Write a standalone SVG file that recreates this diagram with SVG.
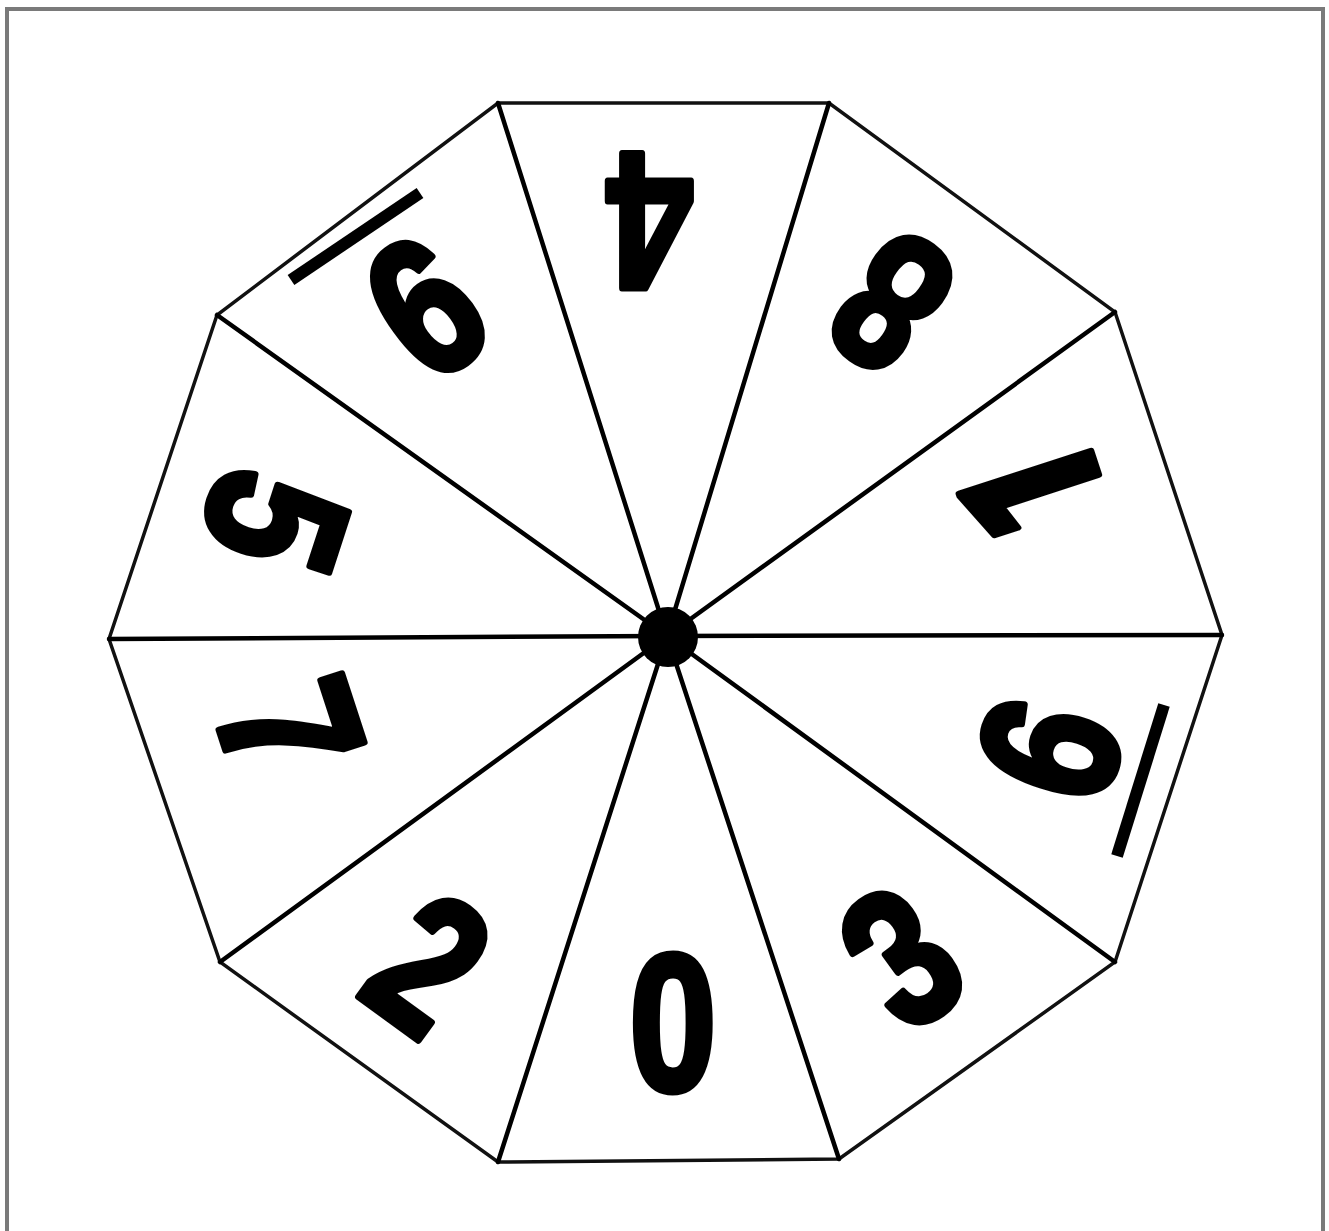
<svg xmlns="http://www.w3.org/2000/svg" width="1329" height="1231" viewBox="0 0 1329 1231">
<style>
.frame{fill:#fff;stroke:#7a7a7a;stroke-width:4}
.outline{fill:#fff;stroke:#111;stroke-width:3.5;stroke-linejoin:miter}
.spoke{stroke:#000;stroke-width:4.5;stroke-linecap:round}
.num{font-family:"Liberation Sans",Arial,sans-serif;font-weight:bold;font-size:195px;fill:#000;stroke:#000;stroke-width:7;stroke-linejoin:round;text-anchor:middle}
.one{font-family:Roboto,"Open Sans",sans-serif;font-weight:900}
.bar{stroke:#000;stroke-width:12;stroke-linecap:butt}
</style>
<rect class="frame" x="7" y="9" width="1316" height="1226"/>
<g id="decagon">
<polygon class="outline" points="498,103 829,103 1115,312 1222,635 1115,962 839,1159 498,1162 220,962 109,639 217,315"/>
</g>
<g id="connectors">
<line class="spoke" x1="667" y1="636" x2="498" y2="103"/>
<line class="spoke" x1="667" y1="636" x2="829" y2="103"/>
<line class="spoke" x1="667" y1="636" x2="1115" y2="312"/>
<line class="spoke" x1="667" y1="636" x2="1222" y2="635"/>
<line class="spoke" x1="667" y1="636" x2="1115" y2="962"/>
<line class="spoke" x1="667" y1="636" x2="839" y2="1159"/>
<line class="spoke" x1="667" y1="636" x2="498" y2="1162"/>
<line class="spoke" x1="667" y1="636" x2="220" y2="962"/>
<line class="spoke" x1="667" y1="636" x2="109" y2="639"/>
<line class="spoke" x1="667" y1="636" x2="217" y2="315"/>
</g>
<g id="hub"><circle cx="668" cy="637" r="30" fill="#000"/></g>
<g id="seg-4"><text class="num" transform="translate(650,224) rotate(180) scale(0.8,1)" y="70">4</text></g>
<g id="seg-8"><text class="num" transform="translate(890,305) rotate(-144) scale(0.8,1)" y="70">8</text></g>
<g id="seg-1"><text class="num one" transform="translate(1030,490) rotate(-108) scale(0.8,1)" y="70">1</text></g>
<g id="seg-6"><text class="num" transform="translate(1047,748) rotate(-72) scale(0.8,1)" y="70">6</text>
<line class="bar" x1="1164" y1="705" x2="1117" y2="856"/></g>
<g id="seg-3"><text class="num" transform="translate(900,955) rotate(-36) scale(0.8,1)" y="70">3</text></g>
<g id="seg-0"><text class="num" transform="translate(673,1020) scale(0.8,1)" y="70">0</text></g>
<g id="seg-2"><text class="num" transform="translate(430,962) rotate(36) scale(0.8,1)" y="70">2</text></g>
<g id="seg-7"><text class="num" transform="translate(292,728) rotate(72) scale(0.8,1)" y="70">7</text></g>
<g id="seg-5"><text class="num" transform="translate(278,522) rotate(108) scale(0.8,1)" y="70">5</text></g>
<g id="seg-9"><text class="num" transform="translate(427,310) rotate(144) scale(0.8,1)" y="70">9</text>
<line class="bar" x1="291" y1="280" x2="420" y2="193"/></g>
</svg>
